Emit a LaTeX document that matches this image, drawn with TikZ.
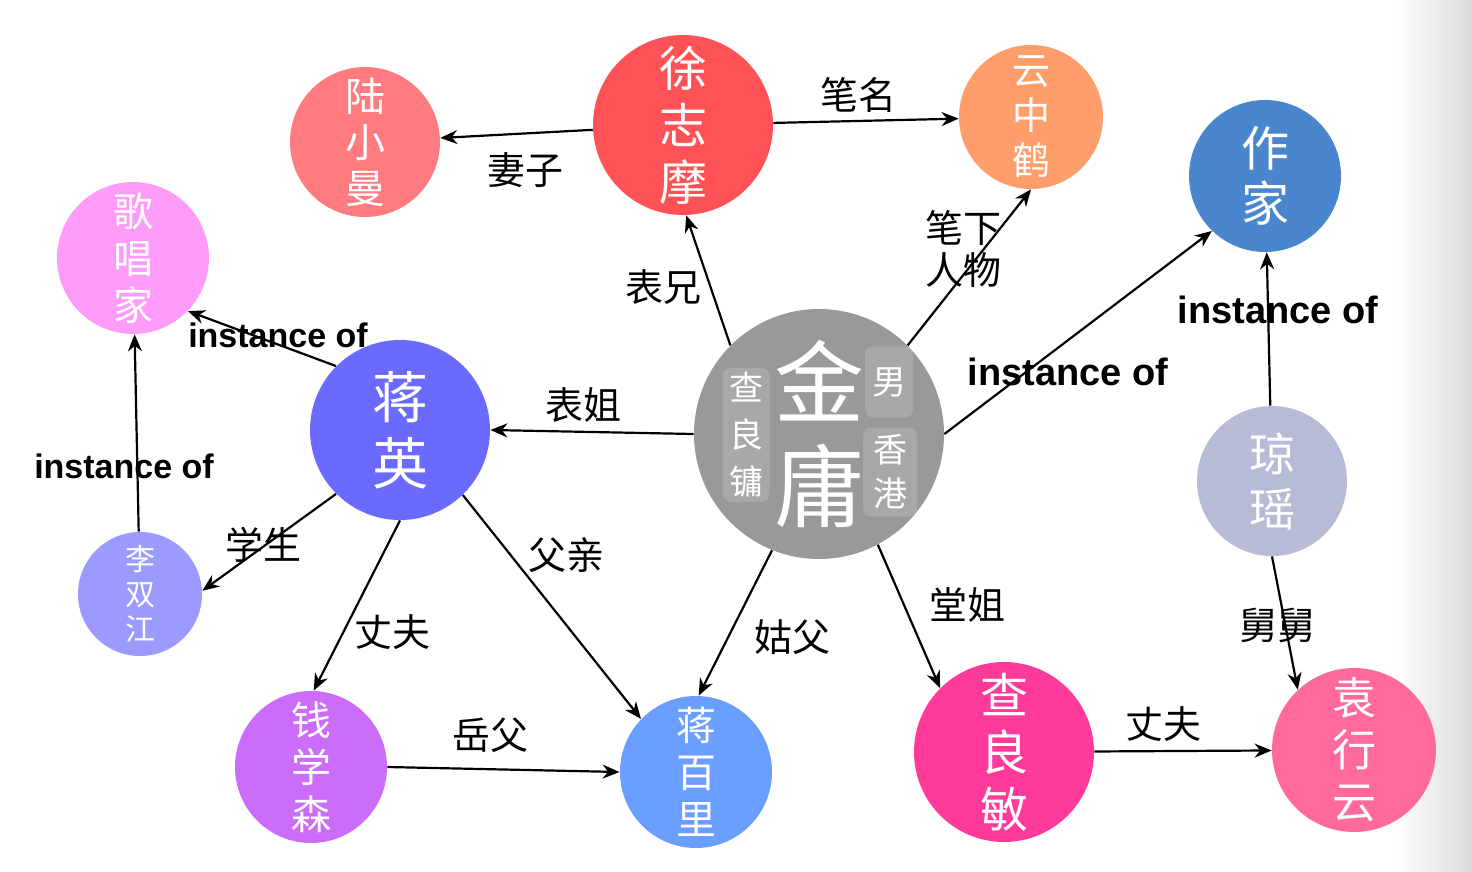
\documentclass[tikz,border=0pt]{standalone}
\usepackage{fontspec}
\setsansfont{Liberation Sans}
\newfontfamily\cjk{Noto Sans CJK SC}
\usepackage{tikz}
\usetikzlibrary{arrows.meta, positioning}
\definecolor{luColor}{HTML}{FF7B80}
\definecolor{xuColor}{HTML}{FF5257}
\definecolor{yunColor}{HTML}{FF9E6A}
\definecolor{writerColor}{HTML}{4A86CE}
\definecolor{singerColor}{HTML}{FF9CFA}
\definecolor{jiangColor}{HTML}{6A6AFF}
\definecolor{jinColor}{HTML}{999999}
\definecolor{qiongColor}{HTML}{B8BBD6}
\definecolor{liColor}{HTML}{9B9BFF}
\definecolor{qianColor}{HTML}{CC6CFA}
\definecolor{baiColor}{HTML}{6A9EFF}
\definecolor{zhaColor}{HTML}{FF3A9A}
\definecolor{yuanColor}{HTML}{FF6A9A}

\begin{document}
\begin{tikzpicture}[x=0.5pt, y=-0.5pt, >={Stealth[length=8.5pt, width=7pt]},
    person/.style={circle, inner sep=0pt, text=white, align=center},
    link/.style={->, line width=1.1pt},
    rel/.style={font=\cjk\fontsize{19}{21}\selectfont, inner sep=0pt, align=center},
    inst/.style={font=\sffamily\bfseries\fontsize{17}{20}\selectfont, inner sep=0pt},
    tagbox/.style={rounded corners=4pt, fill=white, fill opacity=0.15, text opacity=1, text=white, inner sep=0pt, align=center, font=\cjk\fontsize{17}{23.5}\selectfont}]
    \useasboundingbox (0,0) rectangle (1472,872);
    \shade[left color=white, right color=black!14] (1395,0) rectangle (1472,872);

    % Top row
    \node[person, minimum size=75pt, fill=luColor, font=\cjk\fontsize{20}{23}\selectfont] (lu) at (365,142) {陆\\小\\曼};
    \node[person, minimum size=90pt, fill=xuColor, font=\cjk\fontsize{24}{28.5}\selectfont] (xu) at (683,125) {徐\\志\\摩};
    \node[person, minimum size=72pt, fill=yunColor, font=\cjk\fontsize{19}{22.5}\selectfont] (yun) at (1031,117) {云\\中\\鹤};
    \node[person, minimum size=76pt, fill=writerColor, font=\cjk\fontsize{24}{27.5}\selectfont] (writer) at (1265,176) {作\\家};
    \node[person, minimum size=76pt, fill=singerColor, font=\cjk\fontsize{20}{23.5}\selectfont] (singer) at (133,258) {歌\\唱\\家};

    % Middle row
    \node[person, minimum size=90pt, fill=jiangColor, font=\cjk\fontsize{28}{33}\selectfont] (jiang) at (400,430) {蒋\\英};
    \node[person, minimum size=125pt, fill=jinColor, font=\cjk\fontsize{45}{52}\selectfont] (jin) at (819,434) {金\\庸};
    \node[tagbox, minimum width=23.5pt, minimum height=67pt] (jinname) at (746,435) {查\\良\\镛};
    \node[tagbox, minimum width=24pt, minimum height=35.5pt] (jinsex) at (889,382) {男};
    \node[tagbox, minimum width=27pt, minimum height=44.5pt, font=\cjk\fontsize{17}{22}\selectfont] (jinplace) at (890,472) {香\\港};
    \node[person, minimum size=75pt, fill=qiongColor, font=\cjk\fontsize{23}{27.5}\selectfont] (qiong) at (1272,481) {琼\\瑶};
    \node[person, minimum size=62pt, fill=liColor, font=\cjk\fontsize{15}{17.5}\selectfont] (li) at (140,594) {李\\双\\江};

    % Bottom row
    \node[person, minimum size=76pt, fill=qianColor, font=\cjk\fontsize{20}{23.5}\selectfont] (qian) at (311,767) {钱\\学\\森};
    \node[person, minimum size=76pt, fill=baiColor, font=\cjk\fontsize{20}{23.5}\selectfont] (bai) at (696,772) {蒋\\百\\里};
    \node[person, minimum size=90pt, fill=zhaColor, font=\cjk\fontsize{24}{28.5}\selectfont] (zha) at (1004,752) {查\\良\\敏};
    \node[person, minimum size=82pt, fill=yuanColor, font=\cjk\fontsize{22}{26}\selectfont] (yuan) at (1354,750) {袁\\行\\云};

    % Relations of Xu Zhimo
    \draw[link] (xu) -- (lu) node[rel] (lblwife) at (525,170) {妻子};
    \draw[link] (xu) -- (yun) node[rel] (lblpen) at (858,95) {笔名};

    % Relations of Jin Yong
    \draw[link] (jin.135) -- (xu.272) node[rel] (lblcousin) at (663,287) {表兄};
    \draw[link] (jin.45) -- (yun.270) node[rel] (lblchar) at (963,249) {笔下\\人物};
    \draw[link] (jin.east) -- (writer.226) node[inst, font=\sffamily\bfseries\fontsize{19}{22}\selectfont] (lblinst1) at (1068,372) {instance of};
    \draw[link] (jin.west) -- (jiang.east) node[rel] (lblsister) at (583,405) {表姐};
    \draw[link] (jin.248) -- (bai.88) node[rel] (lbluncle) at (792,637) {姑父};
    \draw[link] (jin.298) -- (zha.135) node[rel] (lblcousin2) at (967,605) {堂姐};

    % Right side
    \draw[link] (qiong) -- (writer) node[inst, font=\sffamily\bfseries\fontsize{19}{22}\selectfont] (lblinst2) at (1278,310) {instance of};
    \draw[link] (qiong.south) -- (yuan.133) node[rel] (lblmuncle) at (1277,625) {舅舅};
    \draw[link] (zha) -- (yuan) node[rel] (lblhusband2) at (1163,724) {丈夫};

    % Relations of Jiang Ying
    \draw[link] (jiang.135) -- (singer.316) node[inst] (lblinst3) at (278,335) {instance of};
    \draw[link] (li) -- (singer) node[inst] (lblinst4) at (124,466) {instance of};
    \draw[link] (jiang.225) -- (li.3) node[rel] (lblstudent) at (263,545) {学生};
    \draw[link] (jiang.270) -- (qian.88) node[rel] (lblhusband) at (392,632) {丈夫};
    \draw[link] (jiang.314) -- (bai.136) node[rel] (lblfather) at (566,555) {父亲};
    \draw[link] (qian.east) -- (bai.west) node[rel] (lblinlaw) at (490,735) {岳父};
\end{tikzpicture}
\end{document}
